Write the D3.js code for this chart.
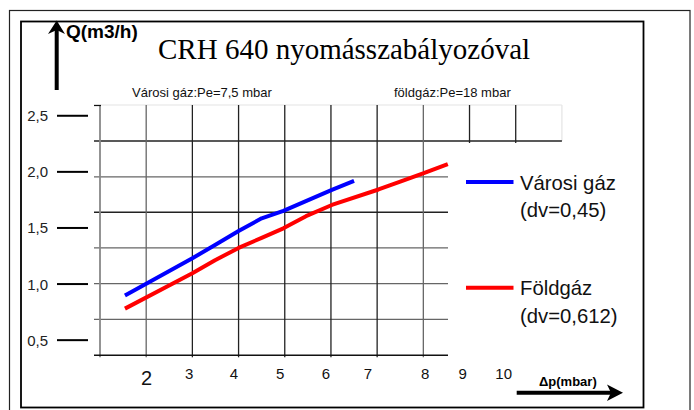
<!DOCTYPE html>
<html><head><meta charset="utf-8">
<script src="https://cdn.jsdelivr.net/npm/d3@7"></script>
<style>body{margin:0;background:#fff} svg{display:block}</style>
</head><body>
<script>
// ---- data ----
const titleText = "CRH 640 nyomásszabályozóval";
const yAxisTitle = "Q(m3/h)";
const xAxisTitle = "Δp(mbar)";
const noteLeft = "Városi gáz:Pe=7,5 mbar";
const noteRight = "földgáz:Pe=18 mbar";

const seriesNames = ["Városi gáz", "Földgáz"];
const seriesSub = ["(dv=0,45)", "(dv=0,612)"];

const varosiX = [1.54, 3.0, 3.49, 4.0, 4.5, 4.97, 6.02, 6.5];
const varosiY = [0.897, 1.230, 1.348, 1.473, 1.586, 1.652, 1.839, 1.919];
const foldX = [1.54, 3.0, 3.49, 4.0, 4.5, 4.97, 5.46, 6.02, 7.03, 7.5, 8.01, 8.53];
const foldY = [0.781, 1.096, 1.212, 1.322, 1.412, 1.497, 1.605, 1.705, 1.843, 1.913, 1.988, 2.070];

const yTickValues = [2.5, 2.0, 1.5, 1.0, 0.5];
const yTickLabels = ["2,5", "2,0", "1,5", "1,0", "0,5"];
const xTickLabels = ["2", "3", "4", "5", "6", "7", "8", "9", "10"];
const xTickValues = [2.01, 2.93, 3.9, 4.9, 5.89, 6.8, 8.04, 8.85, 9.74];

const gridY = [0.365, 0.686, 1.004, 1.322, 1.640, 1.955, 2.275, 2.596];
const gridX = [1, 2, 3, 4, 5, 6, 7, 8, 9, 10, 11];

// ---- layout ----
const W = 694, H = 410;
const svg = d3.select("body").append("svg").attr("width", W).attr("height", H);
const x = d3.scaleLinear().domain([1, 11]).range([100, 561.9]);
const y = d3.scaleLinear().domain([0.365, 2.596]).range([355.3, 105]);
const gridRight = 448, gridLeft = 94;
const yTop = y(2.596), yRow2 = y(2.275), yBot = y(0.365);

// frames
svg.append("rect").attr("x", 9.5).attr("y", 10.5).attr("width", 680.5).attr("height", 410)
  .attr("fill", "none").attr("stroke", "#222").attr("stroke-width", 1.2);
svg.append("rect").attr("x", 21).attr("y", 21.5).attr("width", 622.5).attr("height", 386)
  .attr("fill", "none").attr("stroke", "#000").attr("stroke-width", 1.8);

// grid - top light boundary
svg.append("line").attr("x1", gridLeft).attr("x2", x(11)).attr("y1", yTop).attr("y2", yTop)
  .attr("stroke", "#e4e4e4").attr("stroke-width", 1.2);
svg.append("line").attr("x1", x(11)).attr("x2", x(11)).attr("y1", yTop).attr("y2", yRow2)
  .attr("stroke", "#e4e4e4").attr("stroke-width", 1.2);

// horizontal grid
svg.append("g").selectAll("line").data(gridY.filter(v => v > 0.4 && v < 2.5)).join("line")
  .attr("x1", gridLeft)
  .attr("x2", v => Math.abs(v - 2.275) < 0.01 ? x(11) : gridRight)
  .attr("y1", v => y(v)).attr("y2", v => y(v))
  .attr("stroke", v => (Math.abs(v - 2.275) < 0.01 || Math.abs(v - 1.640) < 0.01) ? "#222" : "#666")
  .attr("stroke-width", 1.3);

// vertical grid
svg.append("g").selectAll("line").data(gridX.filter(v => v > 1 && v < 11)).join("line")
  .attr("x1", v => x(v)).attr("x2", v => x(v))
  .attr("y1", yTop)
  .attr("y2", v => v >= 9 ? yRow2 + 2 : yBot + 2)
  .attr("stroke", v => (v === 2 || v === 8) ? "#666" : "#222")
  .attr("stroke-width", 1.3);

// left axis (gray) + top tick
svg.append("line").attr("x1", x(1)).attr("x2", x(1)).attr("y1", yTop).attr("y2", yBot + 2)
  .attr("stroke", "#888").attr("stroke-width", 1.8);
svg.append("line").attr("x1", gridLeft).attr("x2", x(1) + 1).attr("y1", yTop + 0.5).attr("y2", yTop + 0.5)
  .attr("stroke", "#111").attr("stroke-width", 1.2);
// bottom axis
svg.append("line").attr("x1", gridLeft).attr("x2", gridRight).attr("y1", yBot).attr("y2", yBot)
  .attr("stroke", "#111").attr("stroke-width", 1.6);

// y labels with dashes
const yl = svg.append("g");
yl.selectAll("text").data(yTickValues).join("text")
  .attr("x", 48).attr("y", v => y(v) + 5.5)
  .attr("text-anchor", "end")
  .attr("font-family", "Liberation Sans, Arial, sans-serif").attr("font-size", 15)
  .attr("fill", "#222")
  .text((v, i) => yTickLabels[i]);
yl.selectAll("line").data(yTickValues).join("line")
  .attr("x1", 57).attr("x2", 88).attr("y1", v => y(v)).attr("y2", v => y(v))
  .attr("stroke", "#000").attr("stroke-width", 2);

// x labels
svg.append("g").selectAll("text").data(xTickValues).join("text")
  .attr("x", v => x(v)).attr("y", (v, i) => i === 0 ? 384.5 : 379)
  .attr("text-anchor", "middle")
  .attr("font-family", "Liberation Sans, Arial, sans-serif")
  .attr("font-size", (v, i) => i === 0 ? 20 : 15)
  .attr("fill", "#111")
  .text((v, i) => xTickLabels[i]);

// lines
const line = d3.line().x(d => x(d[0])).y(d => y(d[1]));
svg.append("path").datum(varosiX.map((v, i) => [v, varosiY[i]]))
  .attr("d", line).attr("fill", "none").attr("stroke", "#0000ff").attr("stroke-width", 4)
  .attr("stroke-linejoin", "round");
svg.append("path").datum(foldX.map((v, i) => [v, foldY[i]]))
  .attr("d", line).attr("fill", "none").attr("stroke", "#ff0000").attr("stroke-width", 4)
  .attr("stroke-linejoin", "round");

// legend
const legColors = ["#0000ff", "#ff0000"];
const legY = [182, 287.7];
const lg = svg.append("g").attr("font-family", "Liberation Sans, Arial, sans-serif").attr("font-size", 20.3).attr("fill", "#111");
seriesNames.forEach((n, i) => {
  lg.append("line").attr("x1", 466).attr("x2", 513.5).attr("y1", legY[i]).attr("y2", legY[i])
    .attr("stroke", legColors[i]).attr("stroke-width", 4);
  lg.append("text").attr("x", 520).attr("y", legY[i] + 7.5).text(n);
  lg.append("text").attr("x", 520).attr("y", legY[i] + 35).text(seriesSub[i]);
});

// titles
svg.append("text").attr("x", 158).attr("y", 59.3)
  .attr("font-family", "Liberation Serif, Times New Roman, serif").attr("font-size", 29)
  .attr("fill", "#000").text(titleText);
svg.append("text").attr("x", 66).attr("y", 38.3)
  .attr("font-family", "Liberation Sans, Arial, sans-serif").attr("font-size", 19).attr("font-weight", "bold")
  .attr("fill", "#000").text(yAxisTitle);
svg.append("text").attr("x", 132).attr("y", 97)
  .attr("font-family", "Liberation Sans, Arial, sans-serif").attr("font-size", 13)
  .attr("fill", "#111").text(noteLeft);
svg.append("text").attr("x", 394).attr("y", 97)
  .attr("font-family", "Liberation Sans, Arial, sans-serif").attr("font-size", 13)
  .attr("fill", "#111").text(noteRight);
svg.append("text").attr("x", 539).attr("y", 386)
  .attr("font-family", "Liberation Sans, Arial, sans-serif").attr("font-size", 13).attr("font-weight", "bold")
  .attr("fill", "#000").text(xAxisTitle);

// arrows
svg.append("line").attr("x1", 56.7).attr("x2", 56.7).attr("y1", 90).attr("y2", 30)
  .attr("stroke", "#000").attr("stroke-width", 4);
svg.append("path").attr("d", "M48,34 L56.7,20.5 L65,34 L56.7,30 Z").attr("fill", "#000");
svg.append("line").attr("x1", 516.7).attr("x2", 614).attr("y1", 392.7).attr("y2", 392.7)
  .attr("stroke", "#000").attr("stroke-width", 4);
svg.append("path").attr("d", "M607,384.5 L623,392.7 L607,401 L611,392.7 Z").attr("fill", "#000");
</script>
</body></html>
